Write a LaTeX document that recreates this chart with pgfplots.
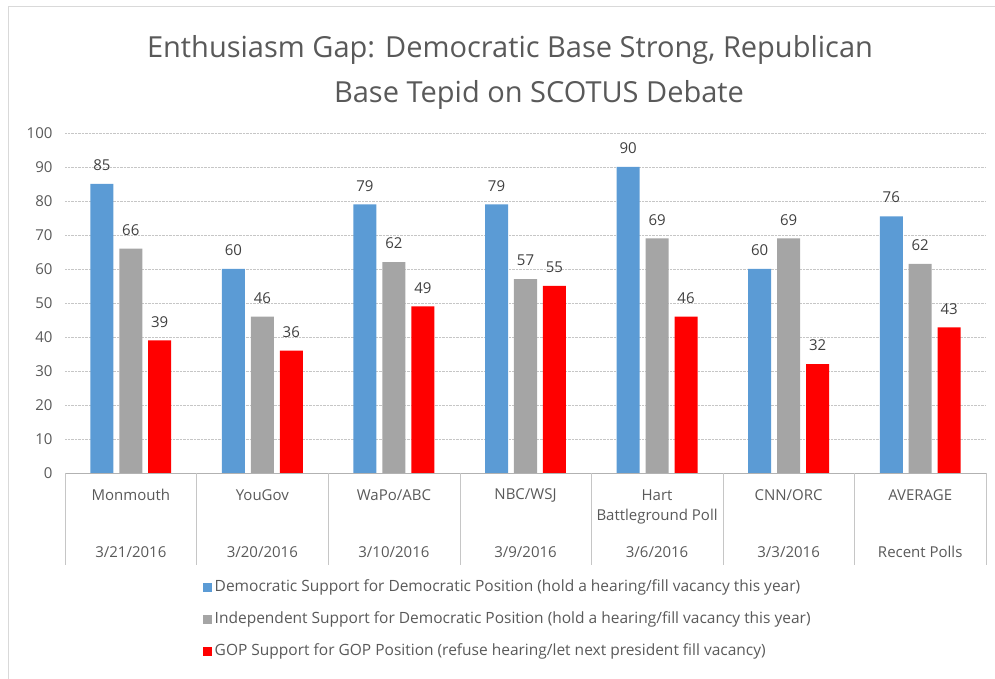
\documentclass[border=0pt]{standalone}
\usepackage{fontspec}
\setmainfont{Open Sans}
\usepackage{pgfplots}
\pgfplotsset{compat=1.18}

\definecolor{demblue}{HTML}{5B9BD5}
\definecolor{indgray}{HTML}{A5A5A5}
\definecolor{gopred}{HTML}{FF0000}
\definecolor{txt}{HTML}{595959}
\definecolor{lbl}{HTML}{404040}

\newcommand{\labfont}{\fontsize{15}{18}\selectfont}

\begin{document}
\begin{tikzpicture}[x=1pt,y=1pt]
\path[use as bounding box] (0,0) rectangle (995,679);
\draw[gray!30] (8,0) -- (8,673) -- (995,673);

% title
\node[text=txt, font=\fontsize{29}{34}\selectfont] at (510,629) {Enthusiasm Gap: Democratic Base Strong, Republican};
\node[text=txt, font=\fontsize{29}{34}\selectfont] at (539,584) {Base Tepid on SCOTUS Debate};

\begin{axis}[
	at={(65pt,206pt)},
	anchor=south west,
	scale only axis,
	width=921pt,
	height=340pt,
	xmin=-0.5, xmax=6.5,
	ymin=0, ymax=100,
	ytick={0,10,...,100},
	ymajorgrids,
	grid style={gray!45, densely dotted},
	axis x line*=bottom,
	axis y line*=left,
	y axis line style={draw=none},
	x axis line style={gray!60},
	ytick style={draw=none},
	yticklabel style={text=txt, font=\labfont, xshift=-9pt},
	/pgf/number format/assume math mode=true,
	xtick=\empty,
	ybar,
	bar width=0.175,
	nodes near coords,
	point meta=explicit symbolic,
	nodes near coords style={text=lbl, font=\labfont, anchor=south, inner sep=0pt, yshift=13pt},
	legend style={at={(0.1498,-0.318)}, anchor=north west, draw=none, fill=none, inner sep=0pt,
		font=\fontsize{15.5}{18}\selectfont, text=txt, row sep=19pt,
		nodes={inner sep=0pt, text height=10pt, text depth=3pt}},
	legend cell align=left,
	legend image code/.code={\fill[#1] (0pt,-4.5pt) rectangle (9pt,4.5pt);},
	clip=false,
]
\addplot[fill=demblue, draw=none, bar shift=-0.22] coordinates {
	(0,85) [85] (1,60) [60] (2,79) [79] (3,79) [79] (4,90) [90] (5,60) [60] (6,75.5) [76]
};
\addlegendentry{\,Democratic Support for Democratic Position (hold a hearing/fill vacancy this year)}
\addplot[fill=indgray, draw=none, bar shift=0] coordinates {
	(0,66) [66] (1,46) [46] (2,62) [62] (3,57) [57] (4,69) [69] (5,69) [69] (6,61.5) [62]
};
\addlegendentry{\,Independent Support for Democratic Position (hold a hearing/fill vacancy this year)}
\addplot[fill=gopred, draw=none, bar shift=0.22] coordinates {
	(0,39) [39] (1,36) [36] (2,49) [49] (3,55) [55] (4,46) [46] (5,32) [32] (6,42.8) [43]
};
\addlegendentry{\,GOP Support for GOP Position (refuse hearing/let next president fill vacancy)}

% category separators
\pgfplotsinvokeforeach{-0.5,0.5,1.5,2.5,3.5,4.5,5.5,6.5}{
	\draw[gray!45] (axis cs:#1,0) -- ++(0pt,-92pt);
}

% category labels, two levels
\begin{scope}[every node/.style={text=txt, font=\labfont}]
\node at (axis cs:0,0) [yshift=-22pt] {Monmouth};
\node at (axis cs:1,0) [yshift=-22pt] {YouGov};
\node at (axis cs:2,0) [yshift=-22pt] {WaPo/ABC};
\node at (axis cs:3,0) [yshift=-22pt] {NBC/WSJ};
\node at (axis cs:4,0) [yshift=-22pt] {Hart};
\node at (axis cs:4,0) [yshift=-44pt] {Battleground Poll};
\node at (axis cs:5,0) [yshift=-22pt] {CNN/ORC};
\node at (axis cs:6,0) [yshift=-22pt] {AVERAGE};
\node at (axis cs:0,0) [yshift=-79pt] {3/21/2016};
\node at (axis cs:1,0) [yshift=-79pt] {3/20/2016};
\node at (axis cs:2,0) [yshift=-79pt] {3/10/2016};
\node at (axis cs:3,0) [yshift=-79pt] {3/9/2016};
\node at (axis cs:4,0) [yshift=-79pt] {3/6/2016};
\node at (axis cs:5,0) [yshift=-79pt] {3/3/2016};
\node at (axis cs:6,0) [yshift=-79pt] {Recent Polls};
\end{scope}
\end{axis}
\end{tikzpicture}
\end{document}
